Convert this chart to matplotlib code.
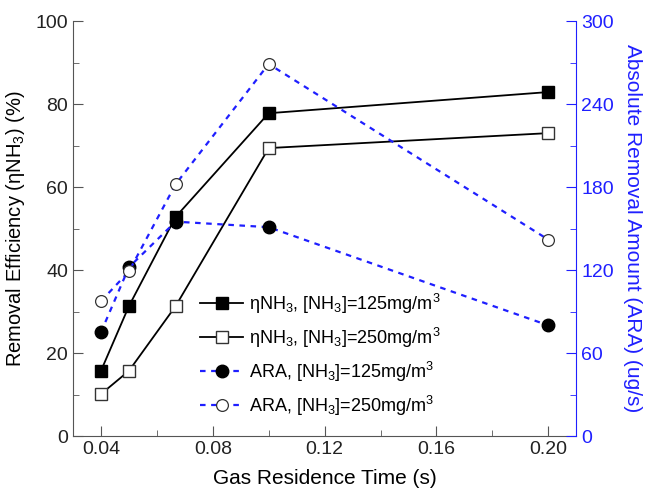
import numpy as np
import matplotlib.pyplot as plt
from matplotlib.ticker import MultipleLocator

plt.rcParams['font.family'] = ['Liberation Sans', 'DejaVu Sans']
plt.rcParams['mathtext.fontset'] = 'custom'
plt.rcParams['mathtext.rm'] = 'Liberation Sans'
plt.rcParams['mathtext.it'] = 'Liberation Sans'

# Data
time_s = [0.04, 0.05, 0.0667, 0.10, 0.20]
eff_125 = [15.7, 31.3, 52.8, 77.8, 82.9]
eff_250 = [10.1, 15.7, 31.3, 69.4, 73.0]
ara_125 = [75, 122, 155, 151, 80]
ara_250 = [97.5, 119, 182, 269, 142]

blue = '#1f1fff'
axis_gray = '#555555'

fig = plt.figure(figsize=(6.46, 4.91), dpi=100)
ax = fig.add_axes([0.113, 0.112, 0.779, 0.845])
ax2 = ax.twinx()

l1, = ax.plot(time_s, eff_125, '-', color='black', lw=1.3, marker='s', ms=9,
              mfc='black', mec='black', label=r'$\eta$NH$_3$, [NH$_3$]=125mg/m$^3$')
l2, = ax.plot(time_s, eff_250, '-', color='black', lw=1.3, marker='s', ms=9,
              mfc='white', mec='#333333', mew=1.0, label=r'$\eta$NH$_3$, [NH$_3$]=250mg/m$^3$')
l3, = ax2.plot(time_s, ara_125, '--', color=blue, lw=1.6, dashes=(2.5, 2.5), marker='o', ms=9,
               mfc='black', mec='black', label=r'ARA, [NH$_3$]=125mg/m$^3$')
l4, = ax2.plot(time_s, ara_250, '--', color=blue, lw=1.6, dashes=(2.5, 2.5), marker='o', ms=8.5,
               mfc='white', mec='#333333', mew=0.9, label=r'ARA, [NH$_3$]=250mg/m$^3$')

ax.set_xlim(0.03, 0.21)
ax.set_ylim(0, 100)
ax2.set_ylim(0, 300)
ax.set_xticks([0.04, 0.08, 0.12, 0.16, 0.20])
ax.set_xticklabels(['0.04', '0.08', '0.12', '0.16', '0.20'])
ax.xaxis.set_minor_locator(MultipleLocator(0.02))
ax.set_yticks([0, 20, 40, 60, 80, 100])
ax.yaxis.set_minor_locator(MultipleLocator(10))
ax2.set_yticks([0, 60, 120, 180, 240, 300])
ax2.yaxis.set_minor_locator(MultipleLocator(30))

ax.set_xlabel('Gas Residence Time (s)', fontsize=15, labelpad=8)
ax.set_ylabel(r'Removal Efficiency ($\eta$NH$_3$) (%)', fontsize=14.5, labelpad=6)
ax2.set_ylabel('Absolute Removal Amount (ARA) (ug/s)', fontsize=15, color=blue,
               rotation=270, labelpad=20)

for a in (ax, ax2):
    a.spines['top'].set_visible(False)
ax.spines['right'].set_visible(False)
ax.spines['left'].set_color(axis_gray)
ax.spines['bottom'].set_color(axis_gray)
ax2.spines['left'].set_visible(False)
ax2.spines['bottom'].set_visible(False)
ax2.spines['right'].set_color(blue)

ax.tick_params(which='both', direction='in', colors=axis_gray, labelcolor='#222222', labelsize=14)
ax.tick_params(which='major', length=7)
ax.tick_params(which='minor', length=4)
ax2.tick_params(which='both', direction='in', colors=blue, labelcolor=blue, labelsize=14)
ax2.tick_params(which='major', length=7)
ax2.tick_params(which='minor', length=4)

ax2.legend(handles=[l1, l2, l3, l4], loc='lower left', bbox_to_anchor=(0.22, 0.005),
           frameon=False, fontsize=13, handlelength=2.4, labelspacing=0.55,
           handletextpad=0.3)

fig.savefig('out.png', dpi=100)
